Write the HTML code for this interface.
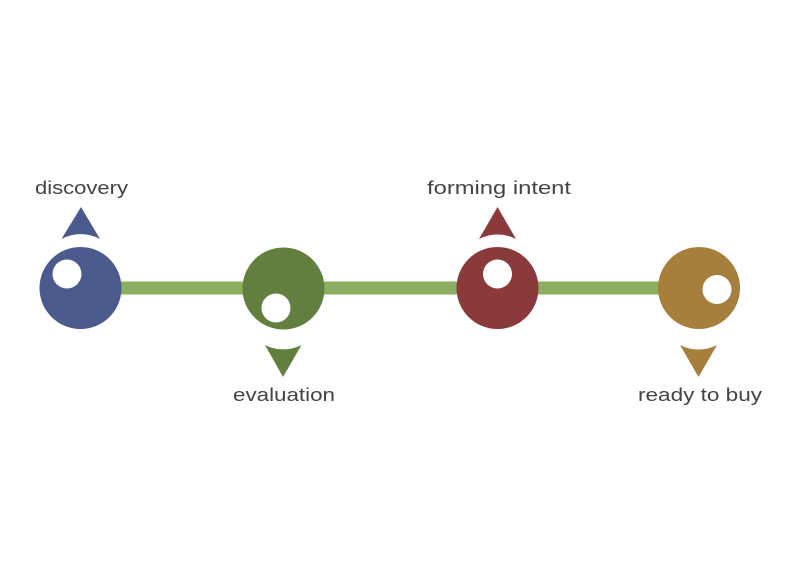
<!DOCTYPE html>
<html><head><meta charset="utf-8"><style>
html,body{margin:0;padding:0;background:#fff;}
svg{display:block;}
text{font-family:"Liberation Sans",sans-serif;font-size:18px;fill:#444;}
</style></head><body>
<svg width="800" height="571" viewBox="0 0 800 571" xmlns="http://www.w3.org/2000/svg">
<rect width="800" height="571" fill="#fff"/>
<rect x="80" y="281.5" width="620" height="13" fill="#8aae62"/>
<!-- node 1 -->
<circle cx="80.5" cy="288" r="41" fill="#4b5a8c"/>
<circle cx="67" cy="274" r="14.5" fill="#fff"/>
<path d="M61.5,239 L81,207 L100,239 A40,40 0 0 0 61.5,239 Z" fill="#4b5a8c"/>
<text x="35" y="194" textLength="93" lengthAdjust="spacingAndGlyphs">discovery</text>
<!-- node 2 -->
<circle cx="283.5" cy="288.5" r="41" fill="#637f3f"/>
<circle cx="276" cy="308" r="14.5" fill="#fff"/>
<path d="M265,345 L283,377 L301.5,345 A40,40 0 0 1 265,345 Z" fill="#637f3f"/>
<text x="233" y="401" textLength="102" lengthAdjust="spacingAndGlyphs">evaluation</text>
<!-- node 3 -->
<circle cx="497.5" cy="288" r="41" fill="#8b3a3b"/>
<circle cx="497.5" cy="274" r="14.5" fill="#fff"/>
<path d="M479,239 L497.5,207 L516,239 A40,40 0 0 0 479,239 Z" fill="#8b3a3b"/>
<text x="427" y="194" textLength="144" lengthAdjust="spacingAndGlyphs">forming intent</text>
<!-- node 4 -->
<circle cx="699" cy="288" r="41" fill="#a67f3c"/>
<circle cx="717" cy="289.5" r="14.5" fill="#fff"/>
<path d="M680,345 L698.5,377 L717,345 A40,40 0 0 1 680,345 Z" fill="#a67f3c"/>
<text x="638" y="401" textLength="124" lengthAdjust="spacingAndGlyphs">ready to buy</text>
</svg>
</body></html>
